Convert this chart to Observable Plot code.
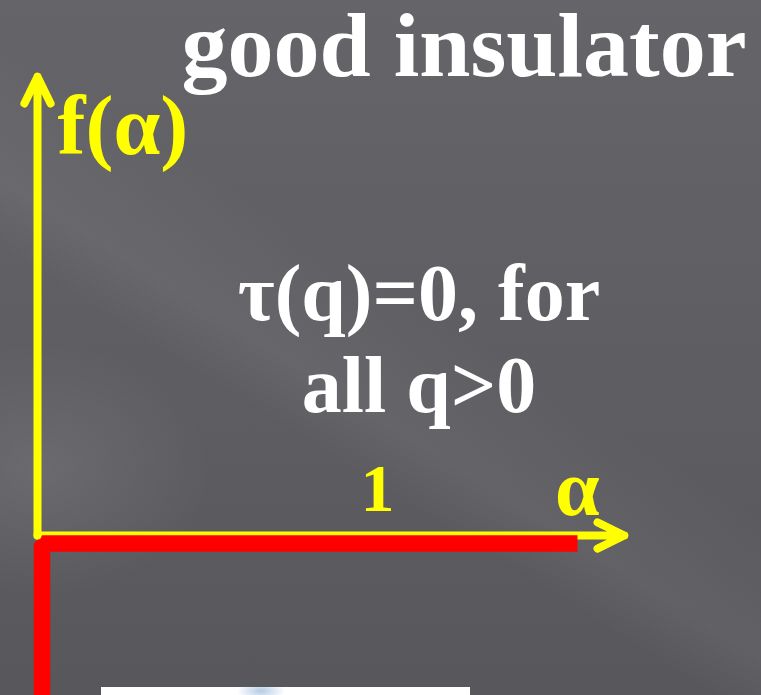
<!DOCTYPE html>
<html>
<head>
<meta charset="utf-8">
<script src="https://cdn.jsdelivr.net/npm/d3@7"></script>
<script src="https://cdn.jsdelivr.net/npm/@observablehq/plot@0.6"></script>
<style>
  html, body { margin: 0; padding: 0; width: 761px; height: 695px; overflow: hidden; }
  body {
    position: relative;
    background:
      radial-gradient(ellipse 230px 170px at 40px 470px, rgba(255,255,255,0.09), rgba(255,255,255,0) 75%),
      linear-gradient(32deg, rgba(255,255,255,0) 38%, rgba(255,255,255,0.05) 44%, rgba(255,255,255,0) 56%),
      linear-gradient(180deg, #656469 0%, #5e5d62 55%, #58575c 100%);
  }
  #chart { position: absolute; left: 0; top: 0; }
  #photo {
    position: absolute; left: 101px; top: 687px; width: 369px; height: 20px;
    background: radial-gradient(ellipse 24px 10px at 160px 4px, rgba(120,160,210,0.55), rgba(255,255,255,0) 100%), #ffffff;
  }
</style>
</head>
<body>
<div id="chart"></div>
<div id="photo"></div>
<script>
// Labels
const title = "good insulator";
const noteLines = ["τ(q)=0, for", "all q>0"];
const yLabel = "f(α)";
const xLabel = "α";
const xTicks = [1];

// Singularity spectrum of a good insulator: f(α) = 0 along the α axis,
// falling to −∞ at α = 0
const alphaValues = [1.575, 0, 0];
const fValues = [0, 0, -0.5];

// Extents of the hand-drawn axes (α and f units)
const xAxisEnd = 1.726;
const yAxisEnd = 0.991;

const spectrum = alphaValues.map((a, i) => ({alpha: a, f: fValues[i]}));

const yellow = "#ffff00";
const red = "#ff0000";
const serif = "Liberation Serif, Times New Roman, serif";

const chart = Plot.plot({
  width: 761,
  height: 695,
  margin: 0,
  style: {background: "transparent", overflow: "hidden"},
  x: {domain: [0, 1], range: [37, 377], axis: null},
  y: {domain: [0, 1], range: [535, 72], axis: null},
  marks: [
    // α axis
    Plot.arrow([{x1: 0, y1: 0, x2: xAxisEnd, y2: 0}], {
      x1: "x1", y1: "y1", x2: "x2", y2: "y2",
      stroke: yellow, strokeWidth: 8, headAngle: 52, headLength: 5.6,
      strokeLinecap: "round", strokeLinejoin: "round"
    }),
    // the spectrum
    Plot.line(spectrum, {
      x: "alpha", y: "f", dx: 4.5, dy: 8,
      stroke: red, strokeWidth: 16.5,
      strokeLinecap: "butt", strokeLinejoin: "miter"
    }),
    // f(α) axis
    Plot.arrow([{x1: 0, y1: 0, x2: 0, y2: yAxisEnd}], {
      x1: "x1", y1: "y1", x2: "x2", y2: "y2",
      stroke: yellow, strokeWidth: 8, headAngle: 52, headLength: 5.6,
      strokeLinecap: "round", strokeLinejoin: "round"
    }),
    // axis labels
    Plot.text([yLabel], {
      x: 0, y: yAxisEnd, text: d => d, textAnchor: "start", lineAnchor: "bottom",
      dx: 20, dy: 77, fill: yellow, fontSize: 84, fontWeight: "bold", fontFamily: serif
    }),
    Plot.text([xLabel], {
      x: xAxisEnd, y: 0, text: d => d, textAnchor: "middle", lineAnchor: "bottom",
      dx: -47, dy: -21, fill: yellow, fontSize: 80, fontWeight: "bold", fontFamily: serif
    }),
    Plot.text(xTicks, {
      x: d => d, y: 0, text: d => String(d), textAnchor: "middle", lineAnchor: "bottom",
      dy: -25, fill: yellow, fontSize: 68, fontWeight: "bold", fontFamily: serif
    }),
    // title
    Plot.text([title], {
      frameAnchor: "top-right", text: d => d, textAnchor: "end", lineAnchor: "bottom",
      dx: -15, dy: 75, fill: "white", fontSize: 92, fontWeight: "bold", fontFamily: serif
    }),
    // annotation
    Plot.text([noteLines.join("\n")], {
      frameAnchor: "top", text: d => d, textAnchor: "middle", lineAnchor: "top",
      dx: 38, dy: 310 - 0.71 * 80, lineHeight: 1.16,
      fill: "white", fontSize: 80, fontWeight: "bold", fontFamily: serif
    })
  ]
});

document.getElementById("chart").appendChild(chart);
</script>
</body>
</html>
